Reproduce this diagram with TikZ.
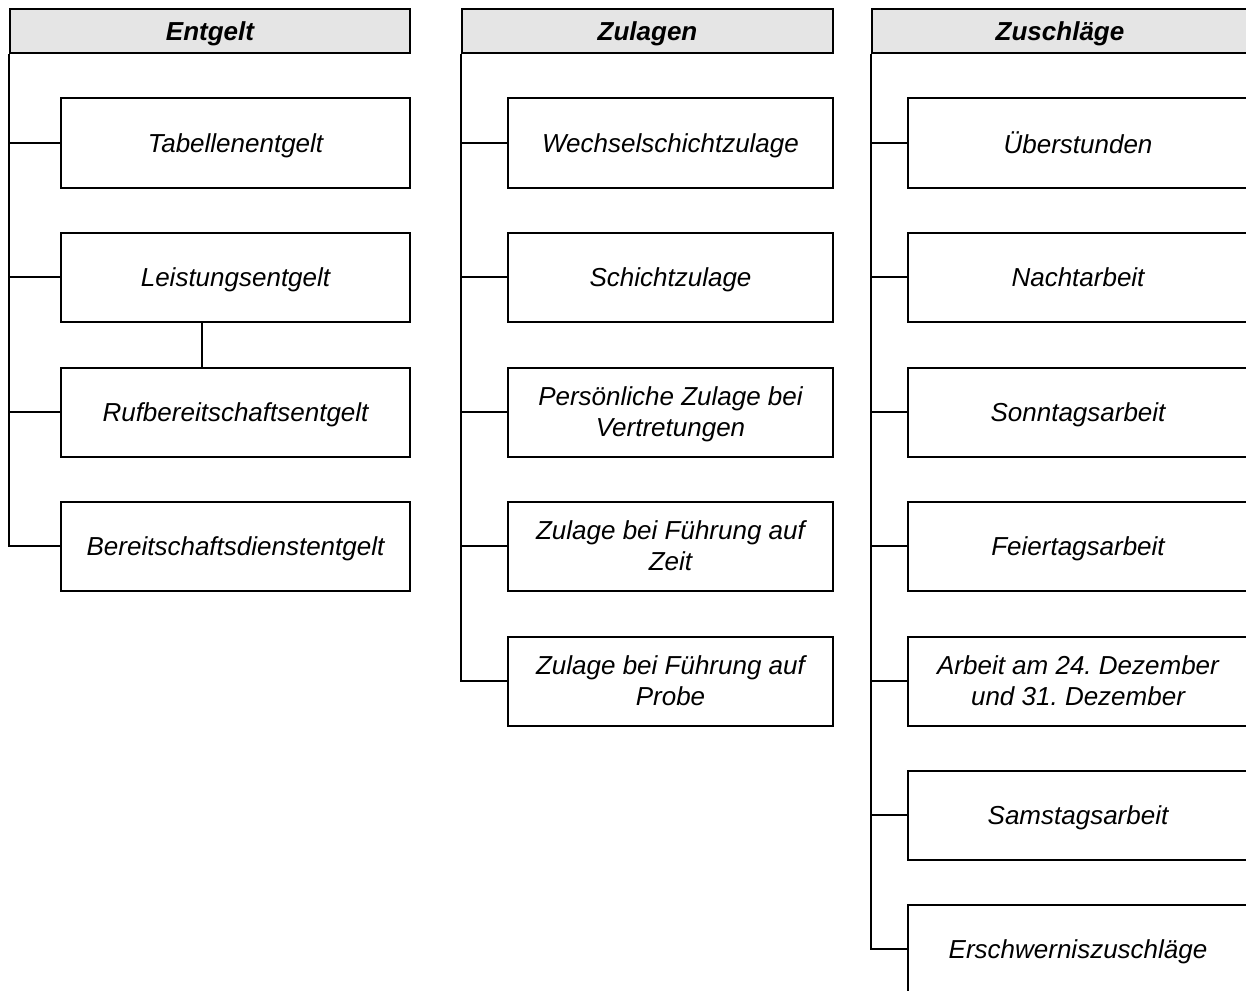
\documentclass[tikz,border=0pt]{standalone}
\usepackage{fontspec}
\setmainfont{Liberation Sans}
\frenchspacing
\tikzset{
  box/.style={draw, line width=1pt, fill=white, align=center, inner sep=0pt,
    text depth=0pt, minimum height=44.5pt, font=\fontsize{13}{15.5}\selectfont\itshape},
  head/.style={box, fill=black!10, minimum height=22pt,
    font=\fontsize{13}{15.5}\selectfont\bfseries\itshape},
  tick/.style={line width=1pt}
}
\begin{document}
\begin{tikzpicture}[x=0.5pt,y=-0.5pt]

\useasboundingbox (0,0) rectangle (1246,990);
\clip (0,0) rectangle (1246,990);

% headers
\node[head, minimum width=200pt] (hEnt) at (210,31) {Entgelt};
\node[head, minimum width=185.5pt] (hZul) at (647.5,31) {Zulagen};
\node[head, minimum width=188pt] (hZus) at (1060,31) {Zuschläge};

% Entgelt
\foreach \name/\y/\txt in {tab/143/Tabellenentgelt,lei/277/Leistungsentgelt,
  ruf/412/Rufbereitschaftsentgelt,bd/546/Bereitschaftsdienstentgelt}
  \node[box, minimum width=174.5pt] (\name) at (235.5,\y) {\txt};

% Zulagen
\foreach \name/\y/\txt in {wsz/143/Wechselschichtzulage,sz/277/Schichtzulage,
  pz/412/{Persönliche Zulage bei\\Vertretungen},fz/546/{Zulage bei Führung auf\\Zeit},
  fp/681/{Zulage bei Führung auf\\Probe}}
  \node[box, minimum width=162.5pt] (\name) at (670.5,\y) {\txt};

% Zuschlaege
\foreach \name/\y/\txt in {ue/143/Überstunden,na/277/Nachtarbeit,so/412/Sonntagsarbeit,
  fe/546/Feiertagsarbeit,dez/681/{Arbeit am 24. Dezember\\und 31. Dezember},
  sa/815/Samstagsarbeit,er/949/Erschwerniszuschläge}
  \node[box, minimum width=170pt] (\name) at (1078,\y) {\txt};

% connectors
\draw[tick] (hEnt.south west) |- (bd.west);
\foreach \b in {tab,lei,ruf} \draw[tick] (hEnt.south west |- \b.west) -- (\b.west);
\path (lei.south west) ++(142,0) coordinate (leiR);
\draw[tick] (leiR) -- (leiR |- ruf.north);

\draw[tick] (hZul.south west) |- (fp.west);
\foreach \b in {wsz,sz,pz,fz} \draw[tick] (hZul.south west |- \b.west) -- (\b.west);

\draw[tick] (hZus.south west) |- (er.west);
\foreach \b in {ue,na,so,fe,dez,sa} \draw[tick] (hZus.south west |- \b.west) -- (\b.west);

\end{tikzpicture}
\end{document}
